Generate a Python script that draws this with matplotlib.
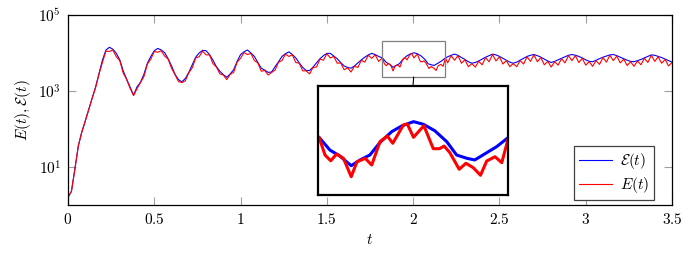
import numpy as np
import matplotlib
matplotlib.use("Agg")
import matplotlib.pyplot as plt
from matplotlib.patches import Rectangle, ConnectionPatch

plt.rcParams['mathtext.fontset'] = 'cm'
plt.rcParams['font.family'] = 'serif'

# log10 of the curly-E curve (blue), on a 0.02 grid before and after the zoomed window
blue_log_a = [0.20, 0.36, 0.95, 1.56, 1.92, 2.21, 2.51, 2.81, 3.11, 3.46,
              3.82, 4.08, 4.15, 4.10, 3.99, 3.82, 3.53, 3.31, 3.10, 2.89,
              3.11, 3.23, 3.44, 3.73, 3.91, 4.06, 4.12, 4.08, 4.01, 3.85,
              3.66, 3.44, 3.30, 3.24, 3.33, 3.49, 3.69, 3.89, 4.00, 4.07,
              4.06, 3.96, 3.81, 3.64, 3.52, 3.43, 3.36, 3.45, 3.56, 3.78,
              3.96, 4.03, 4.08, 4.00, 3.91, 3.75, 3.60, 3.55, 3.49, 3.50,
              3.64, 3.77, 3.91, 3.98, 4.03, 3.96, 3.87, 3.74, 3.62, 3.54,
              3.54, 3.63, 3.74, 3.85, 3.93, 3.99, 3.99, 3.92, 3.85, 3.75,
              3.66, 3.62, 3.60, 3.66, 3.74, 3.82, 3.89, 3.95, 3.99, 3.96,
              3.91]
blue_t_mid = [1.822, 1.843, 1.862, 1.884, 1.901, 1.920, 1.939, 1.962, 1.981,
              2.004, 2.023, 2.045, 2.068, 2.087, 2.107, 2.122, 2.145, 2.164, 2.187]
blue_log_mid = [3.870, 3.759, 3.707, 3.623, 3.673, 3.716, 3.823, 3.919, 3.968,
                4.006, 3.983, 3.927, 3.832, 3.716, 3.687, 3.673, 3.736, 3.788, 3.870]
blue_log_b = [3.90, 3.94, 3.97, 3.94, 3.88, 3.83, 3.77, 3.73, 3.75, 3.79,
              3.84, 3.89, 3.93, 3.97, 3.95, 3.91, 3.86, 3.81, 3.76, 3.73,
              3.76, 3.81, 3.86, 3.91, 3.94, 3.96, 3.93, 3.89, 3.84, 3.79,
              3.75, 3.78, 3.82, 3.86, 3.90, 3.94, 3.96, 3.94, 3.91, 3.87,
              3.82, 3.78, 3.77, 3.81, 3.85, 3.89, 3.92, 3.95, 3.96, 3.93,
              3.89, 3.85, 3.81, 3.78, 3.77, 3.80, 3.83, 3.87, 3.91, 3.95,
              3.94, 3.91, 3.88, 3.84, 3.80, 3.76]

# log10 of E(t) (red)
red_log_a = [0.20, 0.36, 0.95, 1.56, 1.92, 2.21, 2.51, 2.81, 3.09, 3.45,
             3.76, 4.05, 4.04, 4.08, 3.90, 3.80, 3.47, 3.30, 3.07, 2.88,
             3.06, 3.22, 3.38, 3.71, 3.84, 4.04, 4.02, 4.06, 3.92, 3.84,
             3.60, 3.43, 3.25, 3.22, 3.27, 3.48, 3.61, 3.87, 3.90, 4.05,
             3.95, 3.95, 3.72, 3.63, 3.45, 3.42, 3.30, 3.44, 3.49, 3.76,
             3.86, 4.01, 3.96, 3.99, 3.80, 3.74, 3.52, 3.54, 3.42, 3.49,
             3.55, 3.76, 3.80, 3.97, 3.91, 3.95, 3.75, 3.73, 3.53, 3.53,
             3.45, 3.62, 3.63, 3.84, 3.81, 3.98, 3.87, 3.91, 3.73, 3.74,
             3.56, 3.61, 3.50, 3.65, 3.62, 3.81, 3.76, 3.94, 3.86, 3.95,
             3.78]
red_t_mid = [1.822, 1.8335, 1.8445, 1.856, 1.869, 1.884, 1.895, 1.911, 1.9235,
             1.9395, 1.9535, 1.964, 1.9845, 1.992, 2.004, 2.024, 2.042, 2.054,
             2.063, 2.074, 2.092, 2.105, 2.119, 2.133, 2.145, 2.161, 2.174, 2.187]
red_log_mid = [3.870, 3.716, 3.666, 3.725, 3.687, 3.527, 3.657, 3.687, 3.629,
               3.832, 3.881, 3.818, 3.977, 3.986, 3.870, 3.971, 3.771, 3.771,
               3.794, 3.736, 3.592, 3.644, 3.606, 3.540, 3.664, 3.701, 3.649, 3.870]
red_log_b = [3.74, 3.93, 3.81, 3.93, 3.73, 3.82, 3.64, 3.72, 3.63, 3.78,
             3.69, 3.88, 3.77, 3.96, 3.79, 3.90, 3.71, 3.80, 3.64, 3.72,
             3.64, 3.80, 3.71, 3.90, 3.78, 3.95, 3.77, 3.88, 3.69, 3.78,
             3.63, 3.77, 3.68, 3.85, 3.74, 3.93, 3.80, 3.93, 3.75, 3.86,
             3.68, 3.77, 3.65, 3.80, 3.70, 3.88, 3.76, 3.94, 3.80, 3.92,
             3.74, 3.84, 3.67, 3.77, 3.65, 3.79, 3.69, 3.86, 3.75, 3.94,
             3.78, 3.90, 3.73, 3.83, 3.66, 3.75]

xticks = [0, 0.5, 1, 1.5, 2, 2.5, 3, 3.5]
xticklabels = ['$0$', '$0.5$', '$1$', '$1.5$', '$2$', '$2.5$', '$3$', '$3.5$']
yticks = [1e1, 1e3, 1e5]
yticklabels = ['$10^{1}$', '$10^{3}$', '$10^{5}$']

t_a = np.arange(len(blue_log_a)) * 0.02
t_b = 2.20 + np.arange(len(blue_log_b)) * 0.02
blue_t = np.concatenate([t_a, blue_t_mid, t_b])
blue_v = 10 ** np.concatenate([blue_log_a, blue_log_mid, blue_log_b])
red_t = np.concatenate([t_a, red_t_mid, t_b])
red_v = 10 ** np.concatenate([red_log_a, red_log_mid, red_log_b])

zx = (1.82, 2.186)
zy = (2335, 20700)

fig = plt.figure(figsize=(6.92, 2.54), dpi=100)
ax = fig.add_axes([68 / 692, 49 / 254, 604 / 692, 190 / 254])
ax.plot(blue_t, blue_v, color='blue', lw=0.8, label=r'$\mathcal{E}(t)$')
ax.plot(red_t, red_v, color='red', lw=0.8, label=r'$E(t)$')
ax.set_yscale('log')
ax.set_xlim(0, 3.5)
ax.set_ylim(1, 1e5)
ax.set_xticks(xticks)
ax.set_xticklabels(xticklabels)
ax.set_yticks(yticks)
ax.set_yticklabels(yticklabels)
ax.minorticks_off()
ax.tick_params(direction='in', length=6, width=0.8, color='#a0a0a0',
               top=True, right=True, labelsize=11, pad=5)
for s in ax.spines.values():
    s.set_linewidth(0.9)
ax.set_xlabel('$t$', fontsize=11, labelpad=4)
ax.set_ylabel(r'$E(t), \mathcal{E}(t)$', fontsize=11, labelpad=4)

leg = ax.legend(loc='lower right', bbox_to_anchor=(0.970, 0.026), fontsize=11,
                fancybox=False, edgecolor='#404040', framealpha=1,
                handlelength=2.2, borderpad=0.3, labelspacing=0.3,
                handletextpad=0.5, borderaxespad=0)
leg.get_frame().set_linewidth(0.9)

ax.add_patch(Rectangle((zx[0], zy[0]), zx[1] - zx[0], zy[1] - zy[0],
                       fill=False, edgecolor='#808080', lw=0.9, zorder=5))

ins = fig.add_axes([318 / 692, 59 / 254, 190 / 692, 109 / 254])
ins.plot(blue_t, blue_v, color='blue', lw=2.2)
ins.plot(red_t, red_v, color='red', lw=2.2)
ins.set_yscale('log')
ins.set_xlim(*zx)
ins.set_ylim(*zy)
ins.set_xticks([])
ins.set_yticks([])
ins.minorticks_off()
for s in ins.spines.values():
    s.set_linewidth(1.6)

con = ConnectionPatch(xyA=((zx[0] + zx[1]) / 2, zy[0]), coordsA=ax.transData,
                      xyB=(0.5, 1.0), coordsB=ins.transAxes, color='black', lw=0.8)
fig.add_artist(con)

fig.savefig('out.png', dpi=100)
